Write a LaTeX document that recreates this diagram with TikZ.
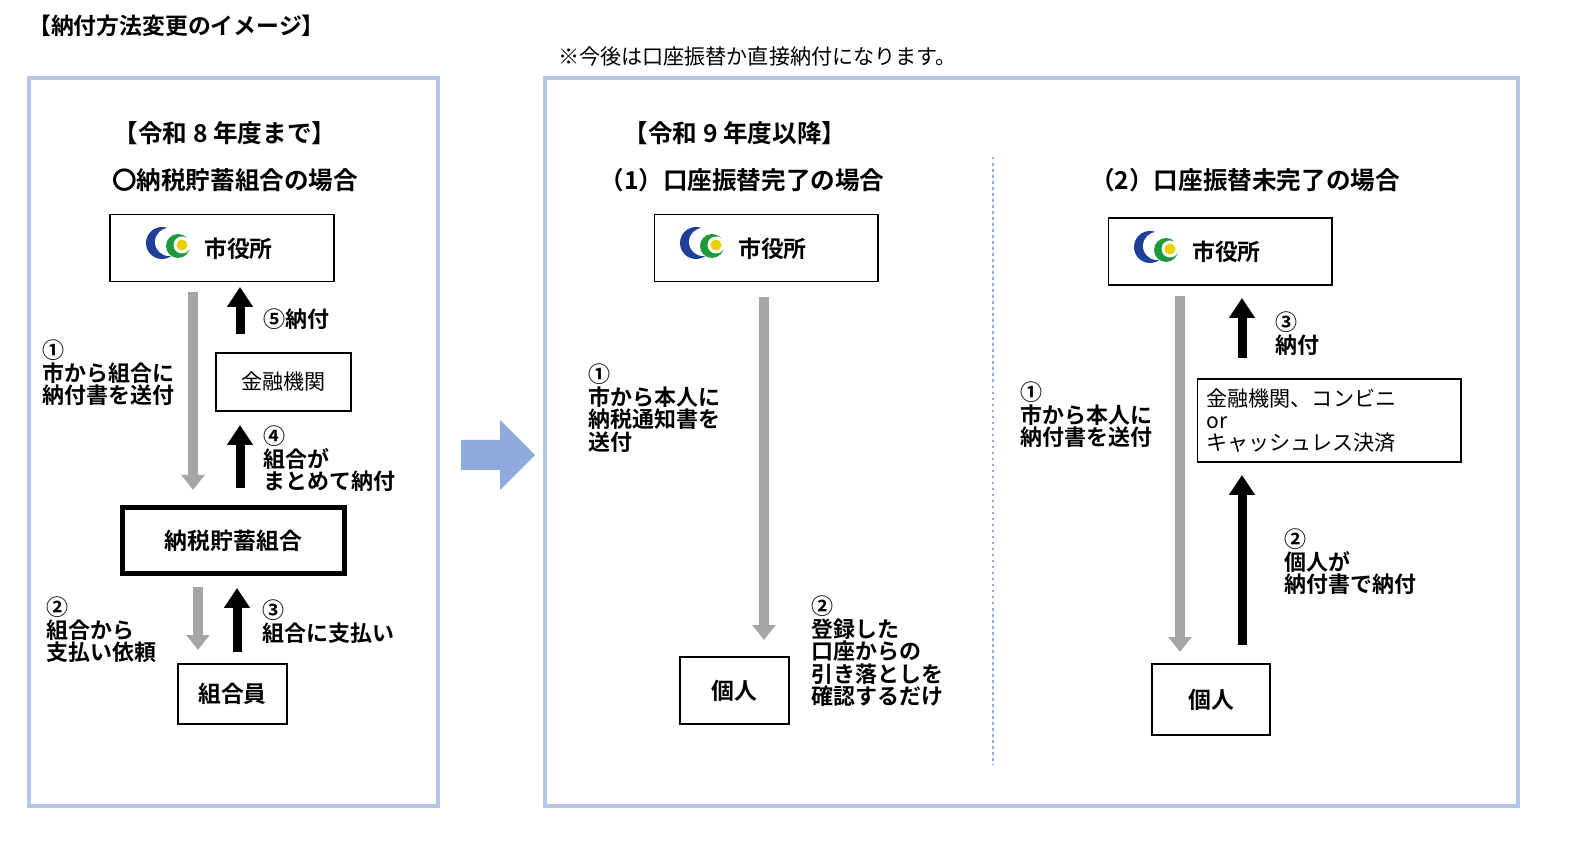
\documentclass[tikz,border=0pt]{standalone}
\usepackage{fontspec}
\setmainfont{Noto Sans CJK JP}[BoldFont={Noto Sans CJK JP Bold}]
\usetikzlibrary{arrows.meta}
\definecolor{panelblue}{HTML}{B4C7E7}
\definecolor{bigblue}{HTML}{8FAADC}
\definecolor{flowgray}{HTML}{A6A6A6}
\definecolor{logoblue}{HTML}{1F3F98}
\definecolor{logogreen}{HTML}{1E9A3C}
\definecolor{logoyellow}{HTML}{E6D200}
\tikzset{
    panel/.style={draw=panelblue, line width=0.08cm},
    box/.style={draw, line width=0.6pt, font=\bfseries\fontsize{13}{15}\selectfont},
    lbl/.style={anchor=north west, align=left, font=\bfseries\fontsize{12.5}{12.8}\selectfont},
    head/.style={anchor=center, font=\bfseries\fontsize{14}{16}\selectfont},
    grayflow/.style={draw=flowgray, line width=0.2cm, -{Triangle[length=0.3cm, width=0.45cm]}},
    blackflow/.style={draw=black, line width=0.18cm, -{Triangle[length=0.4cm, width=0.5cm]}},
    logo/.pic={
        \fill[logoblue] (0,0) circle (16);
        \fill[white] (7,-1) circle (14);
        \fill[logogreen] (16,3) circle (12);
        \fill[white] (20,2) circle (8.5);
        \fill[logoyellow] (20,2) circle (5.5);
    },
}
\begin{document}
\begin{tikzpicture}[x=0.02cm, y=-0.02cm]
    \useasboundingbox (0,0) rectangle (1580,847);
    \node[anchor=west, font=\bfseries\fontsize{13}{15}\selectfont] (title) at (22,26) {【納付方法変更のイメージ】};
    \node[anchor=west, font=\fontsize{12}{14}\selectfont] (note) at (552,57) {※今後は口座振替か直接納付になります。};
    \draw[panel] (29,78) rectangle (438,806);
    \draw[panel] (545,78) rectangle (1518,806);
    \fill[bigblue] (461,440) -- (500,440) -- (500,420) -- (535,455) -- (500,490) -- (500,470) -- (461,470) -- cycle;
    \draw[bigblue, line width=0.05cm, dotted] (993,157) -- (993,765);
    % left panel
    \node[head] (hL) at (225,133) {【令和 8 年度まで】};
    \node[head] (sL) at (235,180) {〇納税貯蓄組合の場合};
    \node[box, minimum width=4.48cm, minimum height=1.34cm] (cityL) at (222,248) {};
    \pic at (162,243) {logo};
    \node[anchor=west, font=\bfseries\fontsize{13}{15}\selectfont] at (198,249) {市役所};
    \node[box, minimum width=2.7cm, minimum height=1.16cm, font=\fontsize{12}{14}\selectfont] (bankL) at (283.5,382) {金融機関};
    \node[box, line width=0.1cm, minimum width=4.46cm, minimum height=1.34cm] (union) at (233.5,540.5) {納税貯蓄組合};
    \node[box, minimum width=2.18cm, minimum height=1.2cm] (member) at (232.5,694) {組合員};
    \draw[grayflow] (193,292) -- (193,490);
    \draw[blackflow] (240,334) -- (240,287);
    \draw[blackflow] (240,488) -- (240,425);
    \draw[grayflow] (198,587) -- (198,650);
    \draw[blackflow] (237,652) -- (237,588);
    \node[lbl] at (36,334) {①\\市から組合に\\納付書を送付};
    \node[lbl] at (257,303) {⑤納付};
    \node[lbl] at (257,420) {④\\組合が\\まとめて納付};
    \node[lbl] at (40,591) {②\\組合から\\支払い依頼};
    \node[lbl] at (256,594) {③\\組合に支払い};
    % case (1)
    \node[head] (hR) at (735,133) {【令和 9 年度以降】};
    \node[head] (s1) at (742,180) {（1）口座振替完了の場合};
    \node[box, minimum width=4.48cm, minimum height=1.34cm] (city1) at (766,248) {};
    \pic at (696,243) {logo};
    \node[anchor=west, font=\bfseries\fontsize{13}{15}\selectfont] at (732,249) {市役所};
    \node[box, minimum width=2.18cm, minimum height=1.34cm] (person1) at (734.5,690.5) {個人};
    \draw[grayflow] (764,297) -- (764,640);
    \node[lbl] at (582,358) {①\\市から本人に\\納税通知書を\\送付};
    \node[lbl] at (805,590) {②\\登録した\\口座からの\\引き落としを\\確認するだけ};
    % case (2)
    \node[head] (s2) at (1245,180) {（2）口座振替未完了の場合};
    \node[box, minimum width=4.48cm, minimum height=1.34cm] (city2) at (1220,251.5) {};
    \pic at (1150,247) {logo};
    \node[anchor=west, font=\bfseries\fontsize{13}{15}\selectfont] at (1186,252) {市役所};
    \node[box, minimum width=5.28cm, minimum height=1.66cm, font=\fontsize{12}{12.5}\selectfont, align=left, text width=4.9cm] (shop) at (1329,420.5) {金融機関、コンビニ\\or\\キャッシュレス決済};
    \node[box, minimum width=2.36cm, minimum height=1.42cm] (person2) at (1211,699.5) {個人};
    \draw[grayflow] (1180,296) -- (1180,652);
    \draw[blackflow] (1242,358) -- (1242,298);
    \draw[blackflow] (1242,645) -- (1242,475);
    \node[lbl] at (1014,376) {①\\市から本人に\\納付書を送付};
    \node[lbl] at (1269,306) {③\\納付};
    \node[lbl] at (1278,523) {②\\個人が\\納付書で納付};
\end{tikzpicture}
\end{document}
